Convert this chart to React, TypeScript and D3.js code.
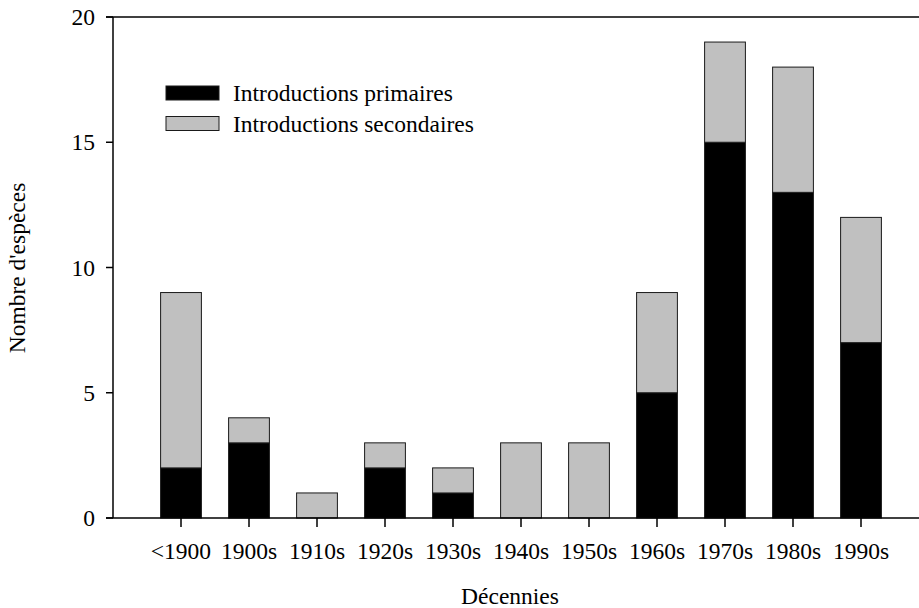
import React from "react";
import * as d3 from "d3";

const categories = ["<1900", "1900s", "1910s", "1920s", "1930s", "1940s", "1950s", "1960s", "1970s", "1980s", "1990s"];
const primaires = [2, 3, 0, 2, 1, 0, 0, 5, 15, 13, 7];
const secondaires = [7, 1, 1, 1, 1, 3, 3, 4, 4, 5, 5];
const yTicks = [0, 5, 10, 15, 20];
const seriesNames = ["Introductions primaires", "Introductions secondaires"];
const seriesColors = ["#000000", "#c0c0c0"];

const W = 919, H = 608;
const left = 113, top = 17, bottom = 518, right = 919;
const step = 68;
const FS = 23.5;

export default function App() {
  const x = d3.scaleBand<string>().domain(categories).range([left + step / 2, left + step / 2 + step * categories.length]).paddingInner(0.4).paddingOuter(0.2);
  const y = d3.scaleLinear().domain([0, 20]).range([bottom, top]);
  const rows = categories.map((c, i) => ({ cat: c, p: primaires[i], s: secondaires[i] }));
  const stack = d3.stack<any>().keys(["p", "s"])(rows);
  const font = "'Liberation Serif', 'Times New Roman', serif";
  const bw = x.bandwidth();
  return (
    <svg width={W} height={H} style={{ position: "absolute", left: 0, top: 0, background: "#fff" }} fontFamily={font}>
      {stack.map((layer, li) => (
        <g key={li}>
          {layer.map((d, i) => d[1] - d[0] > 0 ? (
            <rect key={i} x={x(categories[i])!} y={y(d[1])} width={bw} height={y(d[0]) - y(d[1])}
              fill={seriesColors[li]} stroke="#1a1a1a" strokeWidth={1} />
          ) : null)}
        </g>
      ))}
      <line x1={106} x2={right} y1={top} y2={top} stroke="#000" strokeWidth={1.5} />
      <line x1={106} x2={right} y1={bottom} y2={bottom} stroke="#000" strokeWidth={1.5} />
      <line x1={left} x2={left} y1={top} y2={bottom} stroke="#000" strokeWidth={1.5} />
      {yTicks.map(t => (
        <g key={t}>
          <line x1={106} x2={left} y1={y(t)} y2={y(t)} stroke="#000" strokeWidth={1.5} />
          <text x={95} y={y(t)} dy="0.35em" textAnchor="end" fontSize={FS}>{t}</text>
        </g>
      ))}
      {categories.map(c => {
        const cx = x(c)! + bw / 2;
        return (
          <g key={c}>
            <line x1={cx} x2={cx} y1={bottom} y2={bottom + 9} stroke="#000" strokeWidth={1.5} />
            <text x={cx} y={559} textAnchor="middle" fontSize={FS}>{c}</text>
          </g>
        );
      })}
      <text x={510} y={604} textAnchor="middle" fontSize={FS}>Décennies</text>
      <text transform={`translate(25,268) rotate(-90)`} textAnchor="middle" fontSize={FS}>Nombre d'espèces</text>
      {seriesNames.map((n, i) => (
        <g key={n}>
          <rect x={166} y={86 + i * 30.5} width={53} height={14} fill={seriesColors[i]} stroke="#1a1a1a" strokeWidth={1} />
          <text x={233} y={93 + i * 30.5} dy="0.35em" fontSize={FS}>{n}</text>
        </g>
      ))}
    </svg>
  );
}
